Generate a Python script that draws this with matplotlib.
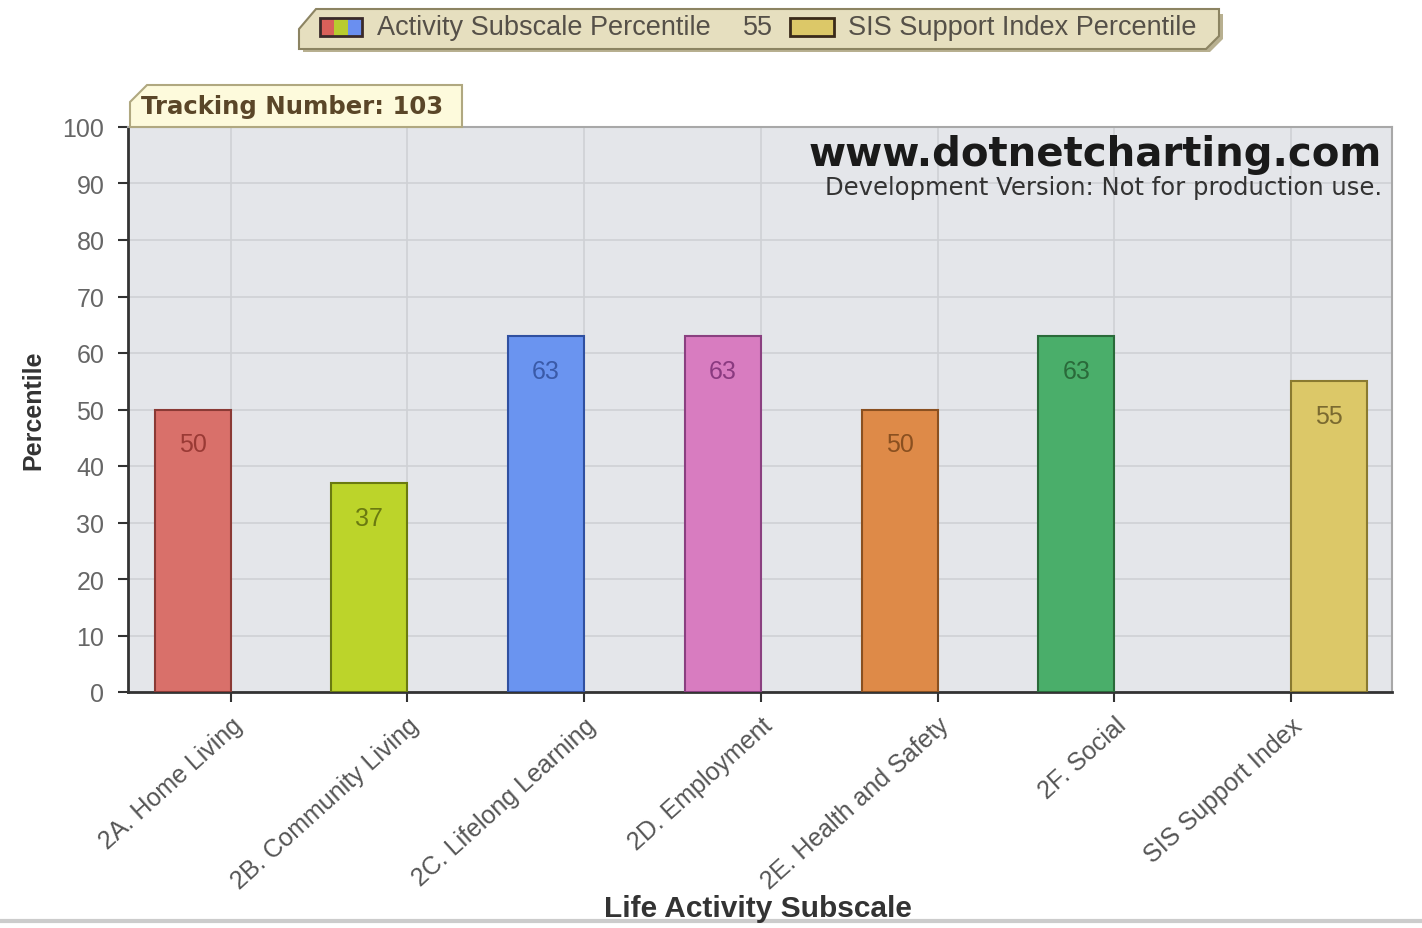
import matplotlib
matplotlib.use("Agg")
import matplotlib.pyplot as plt
from matplotlib.patches import Polygon, Rectangle

categories = ["2A. Home Living", "2B. Community Living", "2C. Lifelong Learning",
              "2D. Employment", "2E. Health and Safety", "2F. Social", "SIS Support Index"]
activity_values = [50, 37, 63, 63, 50, 63]
support_index = 55
tracking_number = 103

activity_colors = ["#d9706a", "#bcd42a", "#6a94f0", "#d87cc0", "#de8a48", "#4aae6a"]
activity_edges = ["#8a3a35", "#6a7a10", "#3050a0", "#8a4080", "#8a5020", "#2a6a3a"]
activity_text = ["#9a3a35", "#6a7a10", "#3a5aa8", "#8a3a80", "#8a5020", "#2a6a3a"]
support_color, support_edge, support_text = "#dcc868", "#8a7a30", "#7a6a30"

W, H = 1422, 929
plt.rcParams["font.family"] = ["Liberation Sans", "DejaVu Sans"]

fig = plt.figure(figsize=(W / 100, H / 100), dpi=100)
fig.patch.set_facecolor("white")


def fx(x):
    return x / W


def fy(y):
    return 1 - y / H


ax = fig.add_axes([fx(128), fy(693), fx(1392) - fx(128), fy(128) - fy(693)])
ax.set_facecolor("#e4e6ea")

bw = 0.43
n = len(activity_values)
xs = list(range(n))
bars = ax.bar(xs, activity_values, width=-bw, align="edge", color=activity_colors,
              edgecolor=activity_edges, linewidth=1.5, zorder=3)
for b, v, c in zip(bars, activity_values, activity_text):
    ax.annotate(str(v), (b.get_x() + b.get_width() / 2, v), xytext=(0, -25),
                textcoords="offset points", ha="center", va="center",
                fontsize=18, color=c, zorder=4)

sb = ax.bar([n], [support_index], width=bw, align="edge", color=support_color,
            edgecolor=support_edge, linewidth=1.5, zorder=3)
ax.annotate(str(support_index), (n + bw / 2, support_index), xytext=(0, -25),
            textcoords="offset points", ha="center", va="center",
            fontsize=18, color=support_text, zorder=4)

ax.set_xlim(-0.58, 6.57)
ax.set_ylim(0, 100)
ax.set_yticks(range(0, 101, 10))
ax.set_xticks(range(len(categories)))
ax.set_xticklabels(categories, rotation=42, ha="right", rotation_mode="anchor",
                   fontsize=18, color="#555555")
ax.tick_params(axis="y", labelsize=18, labelcolor="#666666", length=7, width=1.5,
               color="#333333", pad=10)
ax.tick_params(axis="x", length=7, width=1.5, color="#333333", pad=8)
ax.grid(True, color="#cfd1d5", linewidth=1.2, zorder=0)
ax.set_axisbelow(True)

for s in ("left", "bottom"):
    ax.spines[s].set_color("#333333")
    ax.spines[s].set_linewidth(2)
for s in ("top", "right"):
    ax.spines[s].set_color("#a8a8a8")
    ax.spines[s].set_linewidth(1.5)

ax.set_ylabel("Percentile", fontsize=18, fontweight="bold", color="#333333", labelpad=12)
fig.text(fx(758), fy(909), "Life Activity Subscale", fontsize=21.5, fontweight="bold",
         color="#333333", ha="center", va="center")

# watermark in the top right of the plot
ax.text(0.992, 0.952, "www.dotnetcharting.com", transform=ax.transAxes, ha="right",
        va="center", fontsize=29, fontweight="bold", color="#1a1a1a",
        family="DejaVu Sans", zorder=5)
ax.text(0.992, 0.893, "Development Version: Not for production use.", transform=ax.transAxes,
        ha="right", va="center", fontsize=17.5, color="#333333",
        family="DejaVu Sans", zorder=5)

# tracking number tab above the plot
tab = [(130, 128), (130, 103), (147, 86), (462, 86), (462, 128)]
fig.patches.append(Polygon([(fx(x), fy(y)) for x, y in tab], closed=True,
                           transform=fig.transFigure, facecolor="#fdfadc",
                           edgecolor="#b0a880", linewidth=1.5, zorder=1))
fig.text(fx(141), fy(107), "Tracking Number: %d" % tracking_number, fontsize=17.6,
         fontweight="bold", color="#5a4628", family="DejaVu Sans", va="center")

# legend bar at the top
shadow = [(303, 53), (303, 33), (320, 15), (1223, 15), (1223, 40), (1210, 53)]
fig.patches.append(Polygon([(fx(x), fy(y)) for x, y in shadow], closed=True,
                           transform=fig.transFigure, facecolor="#b8b090",
                           edgecolor="none", zorder=1))
leg = [(299, 50), (299, 30), (316, 10), (1219, 10), (1219, 37), (1206, 50)]
fig.patches.append(Polygon([(fx(x), fy(y)) for x, y in leg], closed=True,
                           transform=fig.transFigure, facecolor="#e6dfbf",
                           edgecolor="#8c8462", linewidth=1.5, zorder=2))
for i, c in enumerate(["#d9605a", "#b8cc30", "#6a8ff0"]):
    fig.patches.append(Rectangle((fx(320 + i * 14), fy(37)), fx(14), fy(19) - fy(37),
                                 transform=fig.transFigure, facecolor=c,
                                 edgecolor="none", zorder=3))
fig.patches.append(Rectangle((fx(320), fy(37)), fx(42), fy(19) - fy(37),
                             transform=fig.transFigure, facecolor="none",
                             edgecolor="#3a2a2a", linewidth=2, zorder=4))
fig.text(fx(377), fy(28), "Activity Subscale Percentile", fontsize=19.5,
         color="#555048", va="center")
fig.lines.append(plt.Line2D([fx(731), fx(731)], [fy(14), fy(46)],
                            transform=fig.transFigure, color="#c8c0a0", linewidth=1))
fig.text(fx(743), fy(28), str(support_index), fontsize=19.5, color="#555048", va="center")
fig.patches.append(Rectangle((fx(790), fy(37)), fx(44), fy(19) - fy(37),
                             transform=fig.transFigure, facecolor=support_color,
                             edgecolor="#3a2a1a", linewidth=2, zorder=4))
fig.text(fx(848), fy(28), "SIS Support Index Percentile", fontsize=19.5,
         color="#555048", va="center")

# footer rule
fig.lines.append(plt.Line2D([0, 1], [fy(922), fy(922)], transform=fig.transFigure,
                            color="#cccccc", linewidth=3))

fig.savefig("out.png", dpi=100)
